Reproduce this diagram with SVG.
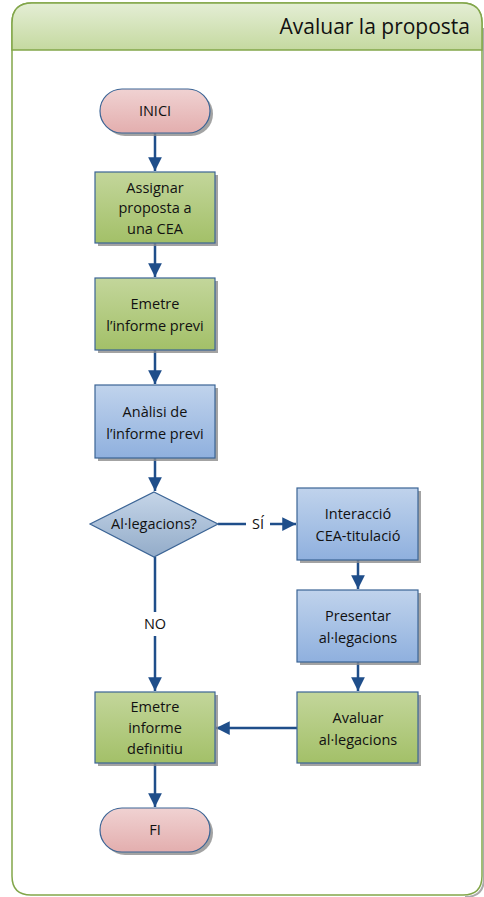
<svg xmlns="http://www.w3.org/2000/svg" width="484" height="897" viewBox="0 0 484 897">
<defs>
<linearGradient id="hdr" x1="0" y1="0" x2="0" y2="1"><stop offset="0" stop-color="#e4eed5"/><stop offset="1" stop-color="#c5d9a0"/></linearGradient>
<linearGradient id="grn" x1="0" y1="0" x2="0" y2="1"><stop offset="0" stop-color="#c3d69b"/><stop offset="1" stop-color="#a3c068"/></linearGradient>
<linearGradient id="blu" x1="0" y1="0" x2="0" y2="1"><stop offset="0" stop-color="#c0d3ec"/><stop offset="1" stop-color="#8fb0de"/></linearGradient>
<linearGradient id="dia" x1="0" y1="0" x2="0" y2="1"><stop offset="0" stop-color="#c5d5e8"/><stop offset="1" stop-color="#93acc9"/></linearGradient>
<linearGradient id="pnk" x1="0" y1="0" x2="0" y2="1"><stop offset="0" stop-color="#f0d2d2"/><stop offset="1" stop-color="#e3aeae"/></linearGradient>
<marker id="ah" viewBox="0 0 10 10" refX="10" refY="5" markerWidth="5.5" markerHeight="5.5" markerUnits="strokeWidth" orient="auto"><path d="M0,0 L10,5 L0,10 z" fill="#1f4e8a"/></marker>
</defs>
<style>
.shd{fill:#8c8c8c;opacity:0.8}
.box{stroke:#3b6495;stroke-width:1.2}
.t{font-family:"Open Sans","Liberation Sans",sans-serif;font-size:14.5px;fill:#111;text-anchor:middle}
.c{fill:none;stroke:#1f4e8a;stroke-width:2.5}
</style>
<g id="frame">
<path d="M484,28 L484,878 Q484,897 465,897" fill="none" stroke="#aaa" stroke-width="2"/>
<path d="M32,3 L462,3 Q482,3 482,23 L482,876 Q482,895 463,895 L31,895 Q12,895 12,876 L12,23 Q12,3 32,3 Z" fill="#fff" stroke="#82a64a" stroke-width="1.5"/>
<path d="M32,3 L462,3 Q482,3 482,23 L482,50 L12,50 L12,23 Q12,3 32,3 Z" fill="url(#hdr)" stroke="#82a64a" stroke-width="1.5"/>
<text x="470" y="34" font-family="'Open Sans','Liberation Sans',sans-serif" font-size="21" fill="#111" text-anchor="end">Avaluar la proposta</text>
</g>
<g id="connectors">
<line class="c" x1="155" y1="133" x2="155" y2="171" marker-end="url(#ah)"/>
<line class="c" x1="155" y1="243" x2="155" y2="277" marker-end="url(#ah)"/>
<line class="c" x1="155" y1="350" x2="155" y2="384" marker-end="url(#ah)"/>
<line class="c" x1="155" y1="458" x2="155" y2="491" marker-end="url(#ah)"/>
<line class="c" x1="218" y1="524" x2="246" y2="524"/>
<line class="c" x1="270" y1="524" x2="296" y2="524" marker-end="url(#ah)"/>
<text class="t" x="258" y="529">SÍ</text>
<line class="c" x1="155" y1="557" x2="155" y2="612"/>
<line class="c" x1="155" y1="636" x2="155" y2="691" marker-end="url(#ah)"/>
<text class="t" x="155" y="629">NO</text>
<line class="c" x1="358" y1="560" x2="358" y2="589" marker-end="url(#ah)"/>
<line class="c" x1="358" y1="662" x2="358" y2="691" marker-end="url(#ah)"/>
<line class="c" x1="297" y1="728" x2="216" y2="728" marker-end="url(#ah)"/>
<line class="c" x1="155" y1="763" x2="155" y2="807" marker-end="url(#ah)"/>
</g>
<g id="inici">
<rect class="shd" x="103" y="92" width="110" height="44" rx="22"/>
<rect class="box" x="100" y="89" width="110" height="44" rx="22" fill="url(#pnk)"/>
<text class="t" x="155" y="116">INICI</text>
</g>
<g id="assignar">
<rect class="shd" x="98" y="175" width="120" height="71"/>
<rect class="box" x="95" y="172" width="120" height="71" fill="url(#grn)"/>
<text class="t" x="155" y="193">Assignar</text>
<text class="t" x="155" y="213">proposta a</text>
<text class="t" x="155" y="234">una CEA</text>
</g>
<g id="emetre-previ">
<rect class="shd" x="98" y="281" width="120" height="72"/>
<rect class="box" x="95" y="278" width="120" height="72" fill="url(#grn)"/>
<text class="t" x="155" y="309">Emetre</text>
<text class="t" x="155" y="331">l’informe previ</text>
</g>
<g id="analisi">
<rect class="shd" x="98" y="388" width="120" height="73"/>
<rect class="box" x="95" y="385" width="120" height="73" fill="url(#blu)"/>
<text class="t" x="155" y="417">Anàlisi de</text>
<text class="t" x="155" y="439">l’informe previ</text>
</g>
<g id="decisio">
<polygon class="box" points="154,492 218,524 154,557 90,524" fill="url(#dia)"/>
<text class="t" x="154" y="529">Al·legacions?</text>
</g>
<g id="interaccio">
<rect class="shd" x="300" y="491" width="121" height="72"/>
<rect class="box" x="297" y="488" width="121" height="72" fill="url(#blu)"/>
<text class="t" x="358" y="519">Interacció</text>
<text class="t" x="358" y="541">CEA-titulació</text>
</g>
<g id="presentar">
<rect class="shd" x="300" y="593" width="121" height="72"/>
<rect class="box" x="297" y="590" width="121" height="72" fill="url(#blu)"/>
<text class="t" x="358" y="621">Presentar</text>
<text class="t" x="358" y="643">al·legacions</text>
</g>
<g id="avaluar">
<rect class="shd" x="300" y="695" width="121" height="71"/>
<rect class="box" x="297" y="692" width="121" height="71" fill="url(#grn)"/>
<text class="t" x="358" y="723">Avaluar</text>
<text class="t" x="358" y="745">al·legacions</text>
</g>
<g id="emetre-definitiu">
<rect class="shd" x="98" y="695" width="120" height="71"/>
<rect class="box" x="95" y="692" width="120" height="71" fill="url(#grn)"/>
<text class="t" x="155" y="712">Emetre</text>
<text class="t" x="155" y="733">informe</text>
<text class="t" x="155" y="754">definitiu</text>
</g>
<g id="fi">
<rect class="shd" x="103" y="811" width="110" height="44" rx="22"/>
<rect class="box" x="100" y="808" width="110" height="44" rx="22" fill="url(#pnk)"/>
<text class="t" x="155" y="835">FI</text>
</g>
</svg>
